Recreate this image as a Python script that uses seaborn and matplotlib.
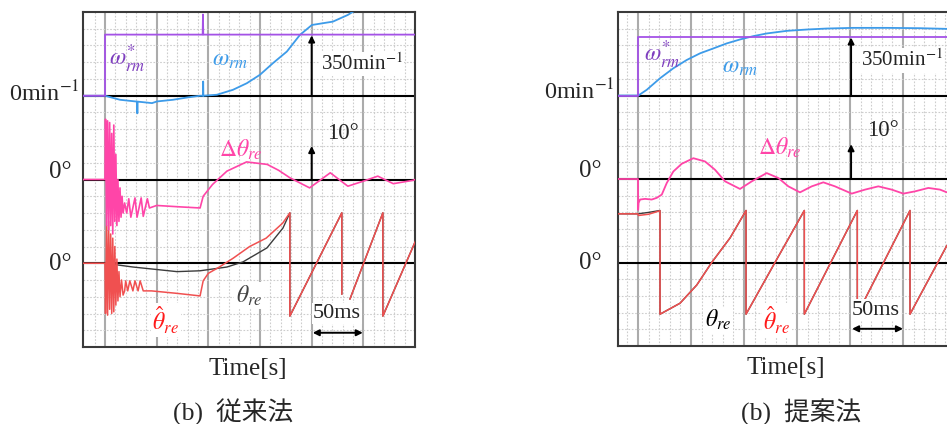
import numpy as np
import pandas as pd
import seaborn as sns
import matplotlib.pyplot as plt

# Time in ms (major grid = 50 ms), y in scope divisions
# zero lines: speed at 3, angle error at 2, angle at 1

# ---- left panel: conventional method ----
L_t_wref = [-21.3, 0, 0, 94.5, 94.8, 95.1, 300]
L_wref = [3.0, 3.0, 3.73, 3.73, 3.97, 3.73, 3.73]

L_t_w = [-21.3, 0, 14.5, 31, 31.3, 31.6, 45.5, 50.3, 65.8, 79.3, 92, 94.8, 95, 95.2,
         108.3, 123.8, 137.3, 149.9, 162.5, 176, 188.6, 200.2, 220.5, 235, 250]
L_w = [3.0, 3.0, 2.952, 2.93, 2.79, 2.93, 2.912, 2.932, 2.952, 2.979, 3.0, 3.0, 3.17, 3.0,
       3.012, 3.071, 3.15, 3.25, 3.389, 3.528, 3.726, 3.845, 3.885, 3.965, 4.08]

L_t_dth = [-21.3, 0, 0.5, 1.5, 2.5, 3.5, 4.5, 5.5, 6.5, 7.5, 8.5, 9.5, 10.5, 11.5, 12.5,
           13.5, 14.5, 15.5, 16.5, 17.5, 19, 21, 23, 25, 29, 31, 35, 37, 41, 43, 50, 70,
           92, 95, 104, 118, 137, 157, 168, 179, 198, 218, 235, 250, 264, 279, 298, 300]
L_dth = [2.0, 2.0, 2.72, 1.45, 2.70, 1.40, 2.68, 1.45, 2.55, 1.35, 2.65, 1.5, 2.3, 1.45, 2.0,
         1.5, 1.9, 1.55, 1.8, 1.6, 1.72, 1.6, 1.77, 1.55, 1.78, 1.55, 1.78, 1.56, 1.77, 1.66, 1.69, 1.675,
         1.66, 1.80, 1.94, 2.10, 2.21, 2.18, 2.11, 2.02, 1.90, 2.08, 1.92, 1.98, 2.04, 1.95, 1.99, 2.0]

L_t_thhat = [-21.3, 0, 0.5, 1.5, 2.5, 3.5, 4.5, 5.5, 6.5, 7.5, 8.5, 9.5, 10.5, 11.5, 12.5, 13.5,
             14.5, 16, 17.5, 19, 20, 22, 24, 27, 29, 32, 34, 37, 45, 70, 92, 95, 100, 110, 124,
             140, 156, 172, 178.9, 178.9, 229.2, 229.2, np.nan, 237, 268.9, 268.9, 301.7]
L_thhat = [1.0, 1.0, 0.40, 1.45, 0.38, 1.5, 0.45, 1.35, 0.40, 1.3, 0.42, 1.2, 0.5, 1.05, 0.55, 0.9,
           0.6, 0.8, 0.62, 0.67, 0.79, 0.67, 0.79, 0.67, 0.79, 0.67, 0.79, 0.67, 0.67, 0.64, 0.61, 0.79,
           0.88, 0.95, 1.06, 1.2, 1.30, 1.48, 1.602, 0.369, 1.602, 0.63, np.nan, 0.571, 1.602, 0.369, 1.30]

L_t_th = [-21.3, 0, 27, 69.6, 91.9, 118, 133.5, 156.7, 172.2, 178.9, 178.9, 229.2, 229.2, np.nan,
          237, 268.9, 268.9, 301.7]
L_th = [1.0, 1.0, 0.955, 0.90, 0.91, 0.955, 1.016, 1.183, 1.42, 1.602, 0.369, 1.602, 0.63, np.nan,
        0.571, 1.602, 0.369, 1.30]

# ---- right panel: proposed method ----
R_t_wref = [-18.9, 0, 0, 291.5]
R_wref = [3.0, 3.0, 3.695, 3.695]

R_t_w = [-18.6, 0.3, 8.2, 20.8, 33.3, 45.9, 58.5, 71.1, 83.7, 96.2, 108.8, 121.4, 140.3,
         159.1, 178, 203.1, 234.6, 266, 291.2]
R_w = [3.0, 3.0, 3.068, 3.207, 3.326, 3.425, 3.505, 3.564, 3.624, 3.671, 3.711, 3.743, 3.774,
       3.790, 3.802, 3.81, 3.81, 3.806, 3.798]

R_t_dth = [-18.9, 0, 0.1, 0.5, 1.9, 6.6, 12.9, 17.6, 22.4, 27.1, 33.3, 41.2, 52.2, 63.2, 72.6,
           82.1, 96.2, 107.3, 121.4, 132.4, 141.8, 152.8, 163.9, 174.8, 185.8, 201.6, 214.2,
           226.7, 239.3, 250.3, 261.3, 273.9, 284.9, 291.2]
R_dth = [2.0, 2.0, 1.63, 1.714, 1.754, 1.762, 1.754, 1.774, 1.813, 1.952, 2.090, 2.182, 2.249,
         2.210, 2.111, 1.972, 1.881, 1.972, 2.071, 2.012, 1.912, 1.840, 1.912, 1.960, 1.912,
         1.825, 1.873, 1.912, 1.873, 1.825, 1.852, 1.893, 1.873, 1.841]

R_t_thhat = [-18.9, 0, 0.3, 10, 20.75, 20.75, 39.6, 55.4, 69.5, 86.8, 101.9, 101.9, 129.2, 156.9,
             156.9, 206.9, 206.9, 256.6, 256.6, 291.5]
R_thhat = [1.583, 1.583, 1.563, 1.578, 1.62, 0.381, 0.512, 0.730, 1.0, 1.294, 1.623, 0.381, 1.0,
           1.623, 0.381, 1.623, 0.381, 1.623, 0.381, 1.206]

R_t_th = [-18.9, 0, 10, 20.75, 20.75, 39.6, 55.4, 69.5, 86.8, 101.9, 101.9, 129.2, 156.9,
          156.9, 206.9, 206.9, 256.6, 256.6, 291.5]
R_th = [1.583, 1.583, 1.60, 1.623, 0.381, 0.512, 0.730, 1.0, 1.294, 1.623, 0.381, 1.0,
        1.623, 0.381, 1.623, 0.381, 1.623, 0.381, 1.206]

C_WREF = "#a452e6"
C_WREF_TXT = "#7f3fbf"
C_W = "#3d9be9"
C_DTH = "#ff45a8"
C_THHAT = "#f05050"
C_THHAT_TXT = "#ff1a1a"
C_TH = "#3c3c3c"

sns.set_theme(style="white")
plt.rcParams["font.family"] = ["Liberation Serif", "Noto Sans CJK JP"]
plt.rcParams["mathtext.fontset"] = "stix"

fig = plt.figure(figsize=(9.47, 4.24), dpi=100)
W, H = 947, 424
ax_l = fig.add_axes([83 / W, 1 - 347 / H, 332 / W, 335 / H])
ax_r = fig.add_axes([618 / W, 1 - 346 / H, 329 / W, 334 / H])


def trace(ax, t, y, color, lw=1.3, alpha=1.0):
    df = pd.DataFrame({"t": t, "y": y})
    df["seg"] = df["y"].isna().cumsum()
    df = df.dropna()
    for _, part in df.groupby("seg"):
        sns.lineplot(data=part, x="t", y="y", ax=ax, color=color, lw=lw, alpha=alpha,
                     sort=False, estimator=None, zorder=3)


def scope_axes(ax, xmin, xmax):
    ax.set_xlim(xmin, xmax)
    ax.set_ylim(0, 4)
    ax.set_xticks(np.arange(0, xmax, 50))
    ax.set_xticks(np.arange(-10, xmax, 10), minor=True)
    ax.set_yticks([])
    ax.set_yticks(np.arange(0.2, 4.0, 0.2), minor=True)
    ax.grid(axis="x", which="major", color="#ababab", lw=1.5)
    ax.grid(axis="x", which="minor", color="#cdcdcd", lw=0.8, ls=(0, (1.5, 1.5)))
    ax.grid(axis="y", which="minor", color="#cdcdcd", lw=0.8, ls=(0, (1.5, 1.5)))
    ax.tick_params(length=0, labelbottom=False, labelleft=False)
    for y0 in [1, 2, 3]:
        ax.axhline(y0, color="black", lw=1.5, zorder=2)
    for s in ax.spines.values():
        s.set_color("#3a3a3a")
        s.set_linewidth(1.5)
    ax.set_xlabel("")
    ax.set_ylabel("")


arrow = dict(arrowstyle="-|>", color="black", lw=1.4, mutation_scale=9, shrinkA=0, shrinkB=0)
arrow2 = dict(arrowstyle="<|-|>", color="black", lw=1.4, mutation_scale=9, shrinkA=0, shrinkB=0)
wbox = dict(facecolor="white", edgecolor="none", pad=1)

# left panel
trace(ax_l, L_t_th, L_th, C_TH, lw=1.0)
trace(ax_l, L_t_thhat, L_thhat, C_THHAT, lw=1.1)
trace(ax_l, L_t_dth, L_dth, C_DTH, lw=1.2)
trace(ax_l, L_t_w, L_w, C_W, lw=1.3)
trace(ax_l, L_t_wref, L_wref, C_WREF, lw=1.3)
scope_axes(ax_l, -21.3, 300)

ax_l.annotate("", xy=(200, 3.72), xytext=(200, 3.0), arrowprops=arrow, zorder=4)
ax_l.annotate("", xy=(200, 2.40), xytext=(200, 2.0), arrowprops=arrow, zorder=4)
ax_l.annotate("", xy=(201, 0.17), xytext=(249.5, 0.17), arrowprops=arrow2, zorder=4)
ax_l.text(21.3, 3.44, r"$\omega_{rm}^{*}$", color=C_WREF_TXT, fontsize=17, ha="center", va="center")
ax_l.text(120.9, 3.42, r"$\omega_{rm}$", color=C_W, fontsize=17, ha="center", va="center")
ax_l.text(248.5, 3.38, r"350min$^{-1}$", fontsize=15, ha="center", va="center", bbox=wbox, zorder=5)
ax_l.text(230, 2.55, "10°", fontsize=16.5, ha="center", va="center")
ax_l.text(131.5, 2.36, r"$\Delta\theta_{re}$", color=C_DTH, fontsize=17, ha="center", va="center")
ax_l.text(139.3, 0.61, r"$\theta_{re}$", color="#444444", fontsize=17, ha="center", va="center",
          bbox=wbox, zorder=5)
ax_l.text(59, 0.32, r"$\hat{\theta}_{re}$", color=C_THHAT_TXT, fontsize=17, ha="center", va="center",
          bbox=wbox, zorder=5)
ax_l.text(224.4, 0.40, "50ms", fontsize=16, ha="center", va="center", bbox=wbox, zorder=5)
ax_l.text(-24.2, 2.93, r"0min$^{-1}$", fontsize=17.5, ha="right", va="baseline", clip_on=False)
ax_l.text(-31.9, 2.02, "0°", fontsize=18, ha="right", va="baseline", clip_on=False)
ax_l.text(-31.9, 0.99, "0°", fontsize=18, ha="right", va="center", clip_on=False)

# right panel
trace(ax_r, R_t_th, R_th, C_TH, lw=1.0)
trace(ax_r, R_t_thhat, R_thhat, C_THHAT, lw=1.1)
trace(ax_r, R_t_dth, R_dth, C_DTH, lw=1.3)
trace(ax_r, R_t_w, R_w, C_W, lw=1.3)
trace(ax_r, R_t_wref, R_wref, C_WREF, lw=1.3)
scope_axes(ax_r, -18.9, 291.5)
ax_r.spines["right"].set_visible(False)

ax_r.annotate("", xy=(201, 3.695), xytext=(201, 3.0), arrowprops=arrow, zorder=4)
ax_r.annotate("", xy=(201, 2.417), xytext=(201, 2.0), arrowprops=arrow, zorder=4)
ax_r.annotate("", xy=(201.9, 0.206), xytext=(250, 0.206), arrowprops=arrow2, zorder=4)
ax_r.text(22.6, 3.49, r"$\omega_{rm}^{*}$", color=C_WREF_TXT, fontsize=17, ha="center", va="center")
ax_r.text(96.2, 3.33, r"$\omega_{rm}$", color=C_W, fontsize=17, ha="center", va="center")
ax_r.text(249, 3.42, r"350min$^{-1}$", fontsize=15, ha="center", va="center", bbox=wbox, zorder=5)
ax_r.text(231, 2.58, "10°", fontsize=16.5, ha="center", va="center")
ax_r.text(134, 2.37, r"$\Delta\theta_{re}$", color=C_DTH, fontsize=17, ha="center", va="center")
ax_r.text(75.5, 0.31, r"$\theta_{re}$", color="black", fontsize=17, ha="center", va="center",
          bbox=wbox, zorder=5)
ax_r.text(131, 0.31, r"$\hat{\theta}_{re}$", color=C_THHAT_TXT, fontsize=17, ha="center", va="center",
          bbox=wbox, zorder=5)
ax_r.text(224.5, 0.43, "50ms", fontsize=16, ha="center", va="center", bbox=wbox, zorder=5)
ax_r.text(-21.7, 2.95, r"0min$^{-1}$", fontsize=17.5, ha="right", va="baseline", clip_on=False)
ax_r.text(-34, 2.02, "0°", fontsize=18, ha="right", va="baseline", clip_on=False)
ax_r.text(-34, 0.99, "0°", fontsize=18, ha="right", va="center", clip_on=False)

fig.text(248 / W, 1 - 369 / H, "Time[s]", fontsize=18, ha="center", va="center")
fig.text(786 / W, 1 - 368 / H, "Time[s]", fontsize=18, ha="center", va="center")
fig.text(233 / W, 1 - 412 / H, "(b)  従来法", fontsize=18.5, ha="center", va="center")
fig.text(801 / W, 1 - 412 / H, "(b)  提案法", fontsize=18.5, ha="center", va="center")

fig.savefig("out.png", dpi=100, facecolor="white")
